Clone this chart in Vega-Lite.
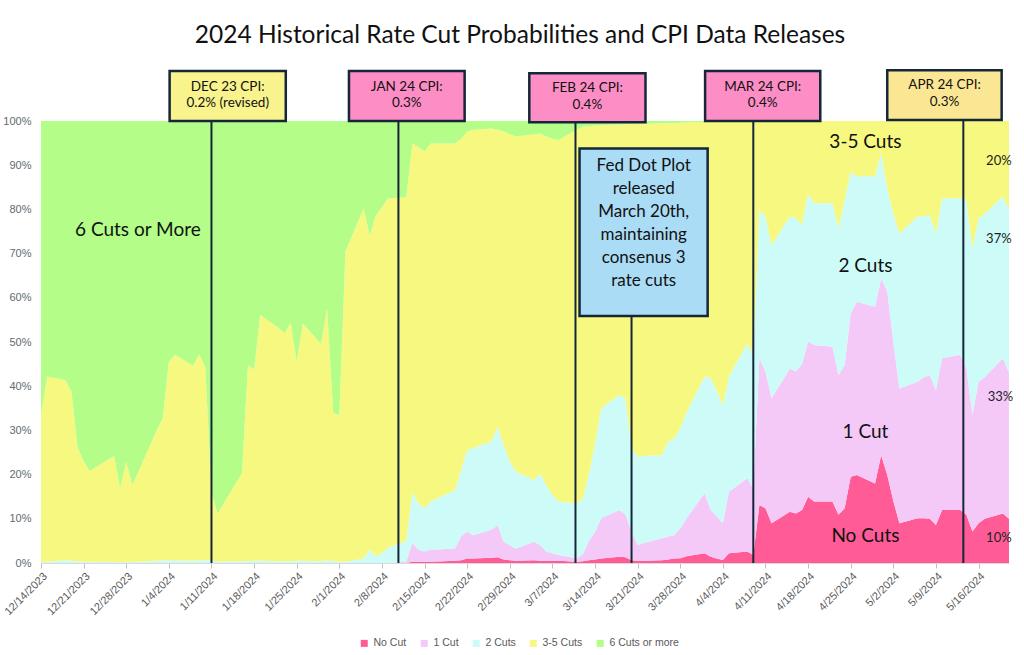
{
  "$schema": "https://vega.github.io/schema/vega-lite/v6.json",
  "width": 968,
  "height": 442,
  "autosize": {"type": "none"},
  "padding": {"left": 41, "top": 121, "right": 15, "bottom": 92},
  "background": "white",
  "title": {"text": "2024 Historical Rate Cut Probabilities and CPI Data Releases", "font": "Lato", "fontSize": 24.5, "fontWeight": "normal", "color": "#111111", "anchor": "middle", "frame": "group", "offset": 20, "dx": -5},
  "config": {"view": {"stroke": null}, "font": "Lato"},
  "layer": [
    {
      "data": {"values": [
        {"d":"2023/12/14","a":0,"b":0,"c":0.2,"e":33.3,"f":66.5},
        {"d":"2023/12/15","a":0,"b":0,"c":0.3,"e":41.9,"f":57.8},
        {"d":"2023/12/18","a":0,"b":0,"c":0.6,"e":40.8,"f":58.6},
        {"d":"2023/12/19","a":0,"b":0,"c":0.5,"e":38.3,"f":61.2},
        {"d":"2023/12/20","a":0,"b":0,"c":0.4,"e":25.9,"f":73.7},
        {"d":"2023/12/21","a":0,"b":0,"c":0.3,"e":22.7,"f":77},
        {"d":"2023/12/22","a":0,"b":0,"c":0.3,"e":20.5,"f":79.2},
        {"d":"2023/12/26","a":0,"b":0,"c":0.2,"e":24,"f":75.8},
        {"d":"2023/12/27","a":0,"b":0,"c":0.2,"e":16.8,"f":83},
        {"d":"2023/12/28","a":0,"b":0,"c":0.2,"e":22.7,"f":77.1},
        {"d":"2023/12/29","a":0,"b":0,"c":0.2,"e":17.4,"f":82.4},
        {"d":"2024/01/02","a":0,"b":0,"c":0.5,"e":29.5,"f":70},
        {"d":"2024/01/03","a":0,"b":0,"c":0.6,"e":32.1,"f":67.3},
        {"d":"2024/01/04","a":0,"b":0,"c":0.6,"e":44.9,"f":54.5},
        {"d":"2024/01/05","a":0,"b":0,"c":0.6,"e":46.5,"f":52.9},
        {"d":"2024/01/08","a":0,"b":0,"c":0.5,"e":44.1,"f":55.4},
        {"d":"2024/01/09","a":0,"b":0,"c":0.6,"e":46.7,"f":52.7},
        {"d":"2024/01/10","a":0,"b":0,"c":0.6,"e":43.6,"f":55.8},
        {"d":"2024/01/11","a":0,"b":0,"c":0.6,"e":15.4,"f":84},
        {"d":"2024/01/12","a":0,"b":0,"c":0.3,"e":10.9,"f":88.8},
        {"d":"2024/01/16","a":0,"b":0,"c":0.4,"e":19.9,"f":79.7},
        {"d":"2024/01/17","a":0,"b":0,"c":0.4,"e":44.4,"f":55.2},
        {"d":"2024/01/18","a":0,"b":0,"c":0.5,"e":43.2,"f":56.3},
        {"d":"2024/01/19","a":0,"b":0,"c":0.5,"e":55.6,"f":43.9},
        {"d":"2024/01/22","a":0,"b":0,"c":0.4,"e":52.8,"f":46.8},
        {"d":"2024/01/23","a":0,"b":0,"c":0.4,"e":51.6,"f":48},
        {"d":"2024/01/24","a":0,"b":0,"c":0.4,"e":54,"f":45.6},
        {"d":"2024/01/25","a":0,"b":0,"c":0.5,"e":45.1,"f":54.4},
        {"d":"2024/01/26","a":0,"b":0,"c":0.5,"e":53.7,"f":45.8},
        {"d":"2024/01/29","a":0,"b":0,"c":0.4,"e":49.2,"f":50.4},
        {"d":"2024/01/30","a":0,"b":0,"c":0.6,"e":57,"f":42.4},
        {"d":"2024/01/31","a":0,"b":0,"c":0.4,"e":33.6,"f":66},
        {"d":"2024/02/01","a":0,"b":0,"c":0.3,"e":33.2,"f":66.5},
        {"d":"2024/02/02","a":0,"b":0,"c":0.3,"e":70.2,"f":29.5},
        {"d":"2024/02/05","a":0,"b":0,"c":1,"e":79.2,"f":19.8},
        {"d":"2024/02/06","a":0,"b":0,"c":3,"e":71,"f":26},
        {"d":"2024/02/07","a":0,"b":0,"c":1.5,"e":77.2,"f":21.3},
        {"d":"2024/02/08","a":0,"b":0,"c":2.2,"e":78.3,"f":19.5},
        {"d":"2024/02/09","a":0,"b":0,"c":3.5,"e":79,"f":17.5},
        {"d":"2024/02/12","a":0,"b":0.3,"c":4.7,"e":77.7,"f":17.3},
        {"d":"2024/02/13","a":0.3,"b":4.2,"c":11.5,"e":78.9,"f":5.1},
        {"d":"2024/02/14","a":0.3,"b":2.7,"c":10.5,"e":80.7,"f":5.8},
        {"d":"2024/02/15","a":0.3,"b":2.3,"c":9.8,"e":80.7,"f":6.9},
        {"d":"2024/02/16","a":0.3,"b":2.7,"c":10.9,"e":81,"f":5.1},
        {"d":"2024/02/20","a":0.5,"b":2.8,"c":13.2,"e":78.4,"f":5.1},
        {"d":"2024/02/21","a":0.6,"b":5.4,"c":15,"e":75,"f":4},
        {"d":"2024/02/22","a":1,"b":6.1,"c":18.4,"e":72.1,"f":2.4},
        {"d":"2024/02/23","a":1,"b":5.3,"c":19.7,"e":72,"f":2},
        {"d":"2024/02/26","a":1.2,"b":6.3,"c":20,"e":70.8,"f":1.7},
        {"d":"2024/02/27","a":1.3,"b":7.3,"c":22.2,"e":67.2,"f":2},
        {"d":"2024/02/28","a":0.8,"b":4,"c":21.9,"e":70.9,"f":2.4},
        {"d":"2024/02/29","a":0.6,"b":3.4,"c":19,"e":74,"f":3},
        {"d":"2024/03/01","a":0.5,"b":2.8,"c":17.4,"e":75.8,"f":3.5},
        {"d":"2024/03/04","a":0.6,"b":4.2,"c":14,"e":78.2,"f":3},
        {"d":"2024/03/05","a":0.5,"b":3.5,"c":16.3,"e":76.9,"f":2.8},
        {"d":"2024/03/06","a":0.5,"b":2.1,"c":15,"e":78.9,"f":3.5},
        {"d":"2024/03/07","a":0.5,"b":1.7,"c":13.3,"e":80.5,"f":4},
        {"d":"2024/03/08","a":0.5,"b":1.3,"c":12.1,"e":81.8,"f":4.3},
        {"d":"2024/03/11","a":0.3,"b":0.8,"c":12.4,"e":84.5,"f":2},
        {"d":"2024/03/12","a":0.4,"b":1.6,"c":12.6,"e":84.1,"f":1.3},
        {"d":"2024/03/13","a":0.6,"b":4.4,"c":15,"e":78.8,"f":1.2},
        {"d":"2024/03/14","a":0.8,"b":6.2,"c":20,"e":72,"f":1},
        {"d":"2024/03/15","a":1,"b":9.1,"c":24.9,"e":64.1,"f":0.9},
        {"d":"2024/03/18","a":1.4,"b":10.6,"c":26,"e":61.2,"f":0.8},
        {"d":"2024/03/19","a":1.3,"b":9.7,"c":26.3,"e":62,"f":0.7},
        {"d":"2024/03/20","a":0.6,"b":6.5,"c":18.8,"e":73.4,"f":0.7},
        {"d":"2024/03/21","a":0.5,"b":3.6,"c":20,"e":75.3,"f":0.6},
        {"d":"2024/03/22","a":0.5,"b":4,"c":19.7,"e":75.2,"f":0.6},
        {"d":"2024/03/25","a":0.6,"b":5,"c":18.8,"e":75.1,"f":0.5},
        {"d":"2024/03/26","a":0.8,"b":5.2,"c":21.5,"e":72,"f":0.5},
        {"d":"2024/03/27","a":1,"b":5.3,"c":21.9,"e":71.3,"f":0.5},
        {"d":"2024/03/28","a":1.1,"b":6.7,"c":22.7,"e":69.1,"f":0.4},
        {"d":"2024/03/29","a":1.5,"b":8.5,"c":24,"e":65.7,"f":0.3},
        {"d":"2024/04/01","a":2.2,"b":13.6,"c":26.4,"e":57.6,"f":0.2},
        {"d":"2024/04/02","a":1.4,"b":10.6,"c":29.8,"e":58.1,"f":0.1},
        {"d":"2024/04/03","a":1,"b":9.5,"c":28.5,"e":61,"f":0},
        {"d":"2024/04/04","a":0.7,"b":8.3,"c":26.7,"e":64.3,"f":0},
        {"d":"2024/04/05","a":2.2,"b":13.9,"c":26.1,"e":57.8,"f":0},
        {"d":"2024/04/08","a":2.6,"b":16.6,"c":30.5,"e":50.3,"f":0},
        {"d":"2024/04/09","a":1.8,"b":15.1,"c":30.2,"e":52.9,"f":0},
        {"d":"2024/04/10","a":13.1,"b":33.2,"c":33.6,"e":20.1,"f":0},
        {"d":"2024/04/11","a":12.4,"b":30.9,"c":35.1,"e":21.6,"f":0},
        {"d":"2024/04/12","a":9,"b":28.3,"c":34.6,"e":28.1,"f":0},
        {"d":"2024/04/15","a":11.6,"b":32.4,"c":34.4,"e":21.6,"f":0},
        {"d":"2024/04/16","a":11.2,"b":32.1,"c":34.7,"e":22,"f":0},
        {"d":"2024/04/17","a":12,"b":33,"c":31.5,"e":23.5,"f":0},
        {"d":"2024/04/18","a":15,"b":35.1,"c":33.5,"e":16.4,"f":0},
        {"d":"2024/04/19","a":13.9,"b":35.4,"c":32.1,"e":18.6,"f":0},
        {"d":"2024/04/22","a":13.9,"b":35,"c":32.5,"e":18.6,"f":0},
        {"d":"2024/04/23","a":10.9,"b":31.6,"c":33.2,"e":24.3,"f":0},
        {"d":"2024/04/24","a":12.4,"b":32.4,"c":37.2,"e":18,"f":0},
        {"d":"2024/04/25","a":19.5,"b":37,"c":32,"e":11.5,"f":0},
        {"d":"2024/04/26","a":19.9,"b":39.2,"c":28.4,"e":12.5,"f":0},
        {"d":"2024/04/29","a":18,"b":40,"c":29.5,"e":12.5,"f":0},
        {"d":"2024/04/30","a":24.4,"b":40,"c":28.3,"e":7.3,"f":0},
        {"d":"2024/05/01","a":19.9,"b":41.5,"c":23.4,"e":15.2,"f":0},
        {"d":"2024/05/02","a":14,"b":36,"c":29,"e":21,"f":0},
        {"d":"2024/05/03","a":9,"b":30.5,"c":35.1,"e":25.4,"f":0},
        {"d":"2024/05/06","a":10.1,"b":30.9,"c":37.4,"e":21.6,"f":0},
        {"d":"2024/05/07","a":10.1,"b":31.9,"c":36.5,"e":21.5,"f":0},
        {"d":"2024/05/08","a":10,"b":32.5,"c":36.2,"e":21.3,"f":0},
        {"d":"2024/05/09","a":8.6,"b":30.5,"c":35.5,"e":25.4,"f":0},
        {"d":"2024/05/10","a":12,"b":34.3,"c":36.2,"e":17.5,"f":0},
        {"d":"2024/05/13","a":12,"b":35.1,"c":35.4,"e":17.5,"f":0},
        {"d":"2024/05/14","a":10.9,"b":33.1,"c":38.1,"e":17.9,"f":0},
        {"d":"2024/05/15","a":7.1,"b":26.4,"c":37.7,"e":28.8,"f":0},
        {"d":"2024/05/16","a":9,"b":32,"c":37,"e":22,"f":0},
        {"d":"2024/05/17","a":10,"b":32,"c":37,"e":21,"f":0},
        {"d":"2024/05/20","a":11.2,"b":35.1,"c":36.6,"e":17.1,"f":0},
        {"d":"2024/05/21","a":10,"b":33,"c":37,"e":20,"f":0}
      ]},
      "transform": [
        {"fold": ["a", "b", "c", "e", "f"], "as": ["k", "p"]},
        {"lookup": "k", "from": {"data": {"values": [
          {"k": "a", "series": "No Cut", "rank": 1},
          {"k": "b", "series": "1 Cut", "rank": 2},
          {"k": "c", "series": "2 Cuts", "rank": 3},
          {"k": "e", "series": "3-5 Cuts", "rank": 4},
          {"k": "f", "series": "6 Cuts or more", "rank": 5}
        ]}, "key": "k", "fields": ["series", "rank"]}}
      ],
      "mark": {"type": "area", "interpolate": "linear"},
      "encoding": {
        "x": {
          "field": "d", "type": "temporal",
          "scale": {"domain": [{"year": 2023, "month": 12, "date": 14}, {"year": 2024, "month": 5, "date": 21}], "nice": false},
          "axis": {
            "values": [
              {"year": 2023, "month": 12, "date": 14}, {"year": 2023, "month": 12, "date": 21}, {"year": 2023, "month": 12, "date": 28},
              {"year": 2024, "month": 1, "date": 4}, {"year": 2024, "month": 1, "date": 11}, {"year": 2024, "month": 1, "date": 18}, {"year": 2024, "month": 1, "date": 25},
              {"year": 2024, "month": 2, "date": 1}, {"year": 2024, "month": 2, "date": 8}, {"year": 2024, "month": 2, "date": 15}, {"year": 2024, "month": 2, "date": 22}, {"year": 2024, "month": 2, "date": 29},
              {"year": 2024, "month": 3, "date": 7}, {"year": 2024, "month": 3, "date": 14}, {"year": 2024, "month": 3, "date": 21}, {"year": 2024, "month": 3, "date": 28},
              {"year": 2024, "month": 4, "date": 4}, {"year": 2024, "month": 4, "date": 11}, {"year": 2024, "month": 4, "date": 18}, {"year": 2024, "month": 4, "date": 25},
              {"year": 2024, "month": 5, "date": 2}, {"year": 2024, "month": 5, "date": 9}, {"year": 2024, "month": 5, "date": 16}
            ],
            "format": "%-m/%-d/%Y", "labelAngle": -45, "labelFont": "Liberation Sans", "labelFontSize": 11,
            "labelColor": "#595959", "tickColor": "#bfbfbf", "tickSize": 5, "domainColor": "#d9d9d9",
            "grid": false, "title": null, "labelPadding": 2, "labelOverlap": false, "labelBound": false
          }
        },
        "y": {
          "field": "p", "type": "quantitative", "stack": "normalize",
          "scale": {"domain": [0, 1], "nice": false},
          "axis": {"values": [0, 0.1, 0.2, 0.3, 0.4, 0.5, 0.6, 0.7, 0.8, 0.9, 1], "format": ".0%", "labelFont": "Liberation Sans", "labelFontSize": 11, "labelColor": "#5f6b6b", "ticks": false, "domain": false, "grid": false, "title": null, "labelPadding": 10}
        },
        "color": {
          "field": "series", "type": "nominal",
          "scale": {"domain": ["No Cut", "1 Cut", "2 Cuts", "3-5 Cuts", "6 Cuts or more"], "range": ["#ff5b97", "#f5c9f7", "#ccfbf8", "#f7f87f", "#b3fd88"]},
          "legend": {"orient": "none", "legendX": 318, "legendY": 517, "direction": "horizontal", "title": null, "symbolType": "square", "symbolSize": 49, "symbolStrokeWidth": 0, "labelFont": "Liberation Sans", "labelFontSize": 10.5, "labelColor": "#595959", "labelOffset": 4, "columnPadding": 12, "padding": 0}
        },
        "order": {"field": "rank", "type": "quantitative"}
      }
    },
    {
      "data": {"values": [
        {"d": "2024/01/11"},
        {"d": "2024/02/10 17:00"},
        {"d": "2024/03/10 19:00"},
        {"d": "2024/04/09"},
        {"d": "2024/05/13 12:00"}
      ]},
      "mark": {"type": "rule", "color": "#15263a", "strokeWidth": 2},
      "encoding": {
        "x": {"field": "d", "type": "temporal"},
        "y": {"datum": 0},
        "y2": {"datum": 1}
      }
    },
    {
      "data": {"values": [{"d": "2024/03/20"}]},
      "mark": {"type": "rule", "color": "#15263a", "strokeWidth": 2},
      "encoding": {
        "x": {"field": "d", "type": "temporal"},
        "y": {"datum": 0},
        "y2": {"datum": 0.559}
      }
    },
    {
      "data": {"values": [
        {"x0": "2024/01/04 03:00", "x1": "2024/01/23 05:00", "lo": 1.0, "hi": 1.113, "tone": "soft"},
        {"x0": "2024/02/02 14:00", "x1": "2024/02/21 14:00", "lo": 1.0, "hi": 1.113, "tone": "hot"},
        {"x0": "2024/03/03 05:00", "x1": "2024/03/22 07:00", "lo": 0.997, "hi": 1.108, "tone": "hot"},
        {"x0": "2024/04/01 02:00", "x1": "2024/04/20 00:00", "lo": 1.0, "hi": 1.113, "tone": "hot"},
        {"x0": "2024/05/01 00:00", "x1": "2024/05/19 19:00", "lo": 1.002, "hi": 1.115, "tone": "mild"},
        {"x0": "2024/03/11 11:00", "x1": "2024/04/01 12:00", "lo": 0.559, "hi": 0.938, "tone": "fed"}
      ]},
      "mark": {"type": "rect", "stroke": "#15263a", "strokeWidth": 2.5},
      "encoding": {
        "x": {"field": "x0", "type": "temporal"},
        "x2": {"field": "x1"},
        "y": {"field": "lo", "type": "quantitative"},
        "y2": {"field": "hi"},
        "fill": {"field": "tone", "type": "nominal", "scale": {"domain": ["soft", "hot", "mild", "fed"], "range": ["#f8f38c", "#fd8dc5", "#fbe793", "#abdcf6"]}, "legend": null}
      }
    },
    {
      "data": {"values": [
        {"xm": "2024/01/13 16:00", "v": 1.078, "n": "DEC 23 CPI:\n0.2% (revised)"},
        {"xm": "2024/02/12 02:00", "v": 1.078, "n": "JAN 24 CPI:\n0.3%"},
        {"xm": "2024/03/12 18:00", "v": 1.074, "n": "FEB 24 CPI:\n0.4%"},
        {"xm": "2024/04/10 13:00", "v": 1.078, "n": "MAR 24 CPI:\n0.4%"},
        {"xm": "2024/05/10 10:00", "v": 1.081, "n": "APR 24 CPI:\n0.3%"}
      ]},
      "mark": {"type": "text", "font": "Lato", "fontSize": 13.5, "lineHeight": 16.6, "lineBreak": "\n", "align": "center", "baseline": "middle", "color": "#111111"},
      "encoding": {
        "x": {"field": "xm", "type": "temporal"},
        "y": {"field": "v", "type": "quantitative"},
        "text": {"field": "n"}
      }
    },
    {
      "data": {"values": [
        {"xm": "2024/03/22 00:00", "v": 0.898, "n": "Fed Dot Plot\nreleased\nMarch 20th,\nmaintaining\nconsenus 3\nrate cuts"}
      ]},
      "mark": {"type": "text", "font": "Lato", "fontSize": 17, "lineHeight": 23, "lineBreak": "\n", "align": "center", "baseline": "middle", "color": "#111111"},
      "encoding": {
        "x": {"field": "xm", "type": "temporal"},
        "y": {"field": "v", "type": "quantitative"},
        "text": {"field": "n"}
      }
    },
    {
      "data": {"values": [
        {"d": "2023/12/29 22:00", "v": 0.753, "t": "6 Cuts or More"},
        {"d": "2024/04/27 10:00", "v": 0.953, "t": "3-5 Cuts"},
        {"d": "2024/04/27 10:00", "v": 0.673, "t": "2 Cuts"},
        {"d": "2024/04/27 10:00", "v": 0.297, "t": "1 Cut"},
        {"d": "2024/04/27 10:00", "v": 0.062, "t": "No Cuts"}
      ]},
      "mark": {"type": "text", "font": "Lato", "fontSize": 19, "align": "center", "baseline": "middle", "color": "#111111"},
      "encoding": {
        "x": {"field": "d", "type": "temporal"},
        "y": {"field": "v", "type": "quantitative"},
        "text": {"field": "t"}
      }
    },
    {
      "data": {"values": [
        {"d": "2024/05/19 08:00", "v": 0.91, "t": "20%"},
        {"d": "2024/05/19 08:00", "v": 0.733, "t": "37%"},
        {"d": "2024/05/19 14:00", "v": 0.376, "t": "33%"},
        {"d": "2024/05/19 08:00", "v": 0.057, "t": "10%"}
      ]},
      "mark": {"type": "text", "font": "Lato", "fontSize": 13, "align": "center", "baseline": "middle", "color": "#222222"},
      "encoding": {
        "x": {"field": "d", "type": "temporal"},
        "y": {"field": "v", "type": "quantitative"},
        "text": {"field": "t"}
      }
    }
  ]
}
